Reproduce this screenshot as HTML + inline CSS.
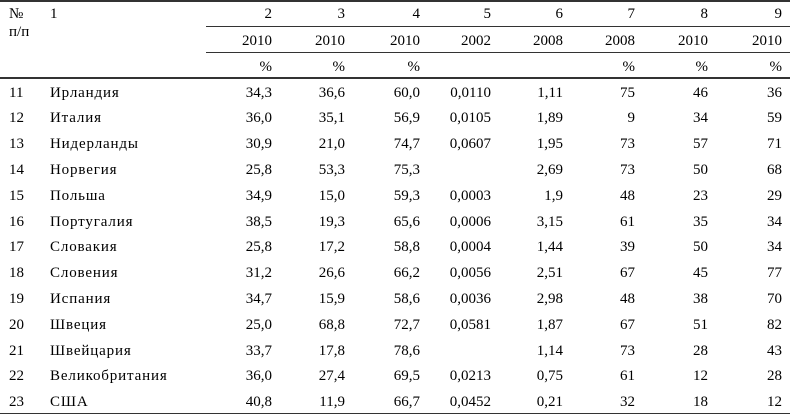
<!DOCTYPE html>
<html>
<head>
<meta charset="utf-8">
<style>
html,body{margin:0;padding:0;background:#fff;}
#t{position:relative;width:790px;height:414px;overflow:hidden;background:#fff;font-family:"Liberation Serif",serif;font-size:15px;color:#000;}
.c{position:absolute;line-height:20px;white-space:nowrap;}
.r{text-align:right;}
.n{letter-spacing:0.85px;}
.ln{position:absolute;background:#333;}
</style>
</head>
<body>
<div id="t">
<div class="ln" style="left:0;top:0;width:790px;height:2px;"></div>
<div class="ln" style="left:206px;top:25.5px;width:584px;height:1px;"></div>
<div class="ln" style="left:206px;top:51.5px;width:584px;height:1px;"></div>
<div class="ln" style="left:0;top:77px;width:790px;height:1.5px;"></div>
<div class="ln" style="left:0;top:412.5px;width:790px;height:1.5px;"></div>

<!-- header -->
<div class="c" style="left:9px;top:4px;">№</div>
<div class="c" style="left:9px;top:22px;">п/п</div>
<div class="c" style="left:50px;top:4px;">1</div>

<div class="c r" style="right:518px;top:4px;">2</div>
<div class="c r" style="right:445px;top:4px;">3</div>
<div class="c r" style="right:370px;top:4px;">4</div>
<div class="c r" style="right:299px;top:4px;">5</div>
<div class="c r" style="right:227px;top:4px;">6</div>
<div class="c r" style="right:155px;top:4px;">7</div>
<div class="c r" style="right:82px;top:4px;">8</div>
<div class="c r" style="right:8px;top:4px;">9</div>

<div class="c r" style="right:518px;top:31px;">2010</div>
<div class="c r" style="right:445px;top:31px;">2010</div>
<div class="c r" style="right:370px;top:31px;">2010</div>
<div class="c r" style="right:299px;top:31px;">2002</div>
<div class="c r" style="right:227px;top:31px;">2008</div>
<div class="c r" style="right:155px;top:31px;">2008</div>
<div class="c r" style="right:82px;top:31px;">2010</div>
<div class="c r" style="right:8px;top:31px;">2010</div>

<div class="c r" style="right:518px;top:57px;">%</div>
<div class="c r" style="right:445px;top:57px;">%</div>
<div class="c r" style="right:370px;top:57px;">%</div>
<div class="c r" style="right:155px;top:57px;">%</div>
<div class="c r" style="right:82px;top:57px;">%</div>
<div class="c r" style="right:8px;top:57px;">%</div>

<!-- rows -->
<div class="c" style="left:9px;top:82.5px;">11</div><div class="c n" style="left:50px;top:82.5px;">Ирландия</div>
<div class="c r" style="right:518px;top:82.5px;">34,3</div><div class="c r" style="right:445px;top:82.5px;">36,6</div><div class="c r" style="right:370px;top:82.5px;">60,0</div><div class="c r" style="right:299px;top:82.5px;">0,0110</div><div class="c r" style="right:227px;top:82.5px;">1,11</div><div class="c r" style="right:155px;top:82.5px;">75</div><div class="c r" style="right:82px;top:82.5px;">46</div><div class="c r" style="right:8px;top:82.5px;">36</div>

<div class="c" style="left:9px;top:108.3px;">12</div><div class="c n" style="left:50px;top:108.3px;">Италия</div>
<div class="c r" style="right:518px;top:108.3px;">36,0</div><div class="c r" style="right:445px;top:108.3px;">35,1</div><div class="c r" style="right:370px;top:108.3px;">56,9</div><div class="c r" style="right:299px;top:108.3px;">0,0105</div><div class="c r" style="right:227px;top:108.3px;">1,89</div><div class="c r" style="right:155px;top:108.3px;">9</div><div class="c r" style="right:82px;top:108.3px;">34</div><div class="c r" style="right:8px;top:108.3px;">59</div>

<div class="c" style="left:9px;top:134.1px;">13</div><div class="c n" style="left:50px;top:134.1px;">Нидерланды</div>
<div class="c r" style="right:518px;top:134.1px;">30,9</div><div class="c r" style="right:445px;top:134.1px;">21,0</div><div class="c r" style="right:370px;top:134.1px;">74,7</div><div class="c r" style="right:299px;top:134.1px;">0,0607</div><div class="c r" style="right:227px;top:134.1px;">1,95</div><div class="c r" style="right:155px;top:134.1px;">73</div><div class="c r" style="right:82px;top:134.1px;">57</div><div class="c r" style="right:8px;top:134.1px;">71</div>

<div class="c" style="left:9px;top:159.9px;">14</div><div class="c n" style="left:50px;top:159.9px;">Норвегия</div>
<div class="c r" style="right:518px;top:159.9px;">25,8</div><div class="c r" style="right:445px;top:159.9px;">53,3</div><div class="c r" style="right:370px;top:159.9px;">75,3</div><div class="c r" style="right:227px;top:159.9px;">2,69</div><div class="c r" style="right:155px;top:159.9px;">73</div><div class="c r" style="right:82px;top:159.9px;">50</div><div class="c r" style="right:8px;top:159.9px;">68</div>

<div class="c" style="left:9px;top:185.7px;">15</div><div class="c n" style="left:50px;top:185.7px;">Польша</div>
<div class="c r" style="right:518px;top:185.7px;">34,9</div><div class="c r" style="right:445px;top:185.7px;">15,0</div><div class="c r" style="right:370px;top:185.7px;">59,3</div><div class="c r" style="right:299px;top:185.7px;">0,0003</div><div class="c r" style="right:227px;top:185.7px;">1,9</div><div class="c r" style="right:155px;top:185.7px;">48</div><div class="c r" style="right:82px;top:185.7px;">23</div><div class="c r" style="right:8px;top:185.7px;">29</div>

<div class="c" style="left:9px;top:211.5px;">16</div><div class="c n" style="left:50px;top:211.5px;">Португалия</div>
<div class="c r" style="right:518px;top:211.5px;">38,5</div><div class="c r" style="right:445px;top:211.5px;">19,3</div><div class="c r" style="right:370px;top:211.5px;">65,6</div><div class="c r" style="right:299px;top:211.5px;">0,0006</div><div class="c r" style="right:227px;top:211.5px;">3,15</div><div class="c r" style="right:155px;top:211.5px;">61</div><div class="c r" style="right:82px;top:211.5px;">35</div><div class="c r" style="right:8px;top:211.5px;">34</div>

<div class="c" style="left:9px;top:237.3px;">17</div><div class="c n" style="left:50px;top:237.3px;">Словакия</div>
<div class="c r" style="right:518px;top:237.3px;">25,8</div><div class="c r" style="right:445px;top:237.3px;">17,2</div><div class="c r" style="right:370px;top:237.3px;">58,8</div><div class="c r" style="right:299px;top:237.3px;">0,0004</div><div class="c r" style="right:227px;top:237.3px;">1,44</div><div class="c r" style="right:155px;top:237.3px;">39</div><div class="c r" style="right:82px;top:237.3px;">50</div><div class="c r" style="right:8px;top:237.3px;">34</div>

<div class="c" style="left:9px;top:263.1px;">18</div><div class="c n" style="left:50px;top:263.1px;">Словения</div>
<div class="c r" style="right:518px;top:263.1px;">31,2</div><div class="c r" style="right:445px;top:263.1px;">26,6</div><div class="c r" style="right:370px;top:263.1px;">66,2</div><div class="c r" style="right:299px;top:263.1px;">0,0056</div><div class="c r" style="right:227px;top:263.1px;">2,51</div><div class="c r" style="right:155px;top:263.1px;">67</div><div class="c r" style="right:82px;top:263.1px;">45</div><div class="c r" style="right:8px;top:263.1px;">77</div>

<div class="c" style="left:9px;top:288.9px;">19</div><div class="c n" style="left:50px;top:288.9px;">Испания</div>
<div class="c r" style="right:518px;top:288.9px;">34,7</div><div class="c r" style="right:445px;top:288.9px;">15,9</div><div class="c r" style="right:370px;top:288.9px;">58,6</div><div class="c r" style="right:299px;top:288.9px;">0,0036</div><div class="c r" style="right:227px;top:288.9px;">2,98</div><div class="c r" style="right:155px;top:288.9px;">48</div><div class="c r" style="right:82px;top:288.9px;">38</div><div class="c r" style="right:8px;top:288.9px;">70</div>

<div class="c" style="left:9px;top:314.7px;">20</div><div class="c n" style="left:50px;top:314.7px;">Швеция</div>
<div class="c r" style="right:518px;top:314.7px;">25,0</div><div class="c r" style="right:445px;top:314.7px;">68,8</div><div class="c r" style="right:370px;top:314.7px;">72,7</div><div class="c r" style="right:299px;top:314.7px;">0,0581</div><div class="c r" style="right:227px;top:314.7px;">1,87</div><div class="c r" style="right:155px;top:314.7px;">67</div><div class="c r" style="right:82px;top:314.7px;">51</div><div class="c r" style="right:8px;top:314.7px;">82</div>

<div class="c" style="left:9px;top:340.5px;">21</div><div class="c n" style="left:50px;top:340.5px;">Швейцария</div>
<div class="c r" style="right:518px;top:340.5px;">33,7</div><div class="c r" style="right:445px;top:340.5px;">17,8</div><div class="c r" style="right:370px;top:340.5px;">78,6</div><div class="c r" style="right:227px;top:340.5px;">1,14</div><div class="c r" style="right:155px;top:340.5px;">73</div><div class="c r" style="right:82px;top:340.5px;">28</div><div class="c r" style="right:8px;top:340.5px;">43</div>

<div class="c" style="left:9px;top:366.3px;">22</div><div class="c n" style="left:50px;top:366.3px;">Великобритания</div>
<div class="c r" style="right:518px;top:366.3px;">36,0</div><div class="c r" style="right:445px;top:366.3px;">27,4</div><div class="c r" style="right:370px;top:366.3px;">69,5</div><div class="c r" style="right:299px;top:366.3px;">0,0213</div><div class="c r" style="right:227px;top:366.3px;">0,75</div><div class="c r" style="right:155px;top:366.3px;">61</div><div class="c r" style="right:82px;top:366.3px;">12</div><div class="c r" style="right:8px;top:366.3px;">28</div>

<div class="c" style="left:9px;top:392.1px;">23</div><div class="c n" style="left:50px;top:392.1px;">США</div>
<div class="c r" style="right:518px;top:392.1px;">40,8</div><div class="c r" style="right:445px;top:392.1px;">11,9</div><div class="c r" style="right:370px;top:392.1px;">66,7</div><div class="c r" style="right:299px;top:392.1px;">0,0452</div><div class="c r" style="right:227px;top:392.1px;">0,21</div><div class="c r" style="right:155px;top:392.1px;">32</div><div class="c r" style="right:82px;top:392.1px;">18</div><div class="c r" style="right:8px;top:392.1px;">12</div>
</div>
</body>
</html>
